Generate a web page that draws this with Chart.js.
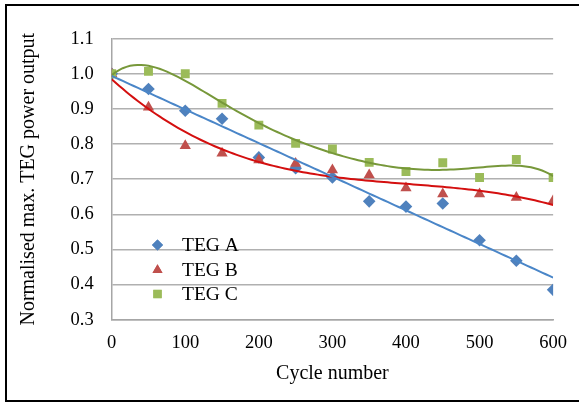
<!DOCTYPE html>
<html>
<head>
<meta charset="utf-8">
<script src="https://cdn.jsdelivr.net/npm/chart.js@4.4.1/dist/chart.umd.min.js"></script>
<style>
  html, body { margin: 0; padding: 0; background: #fff; }
  #wrap { position: relative; width: 579px; height: 403px; }
  #frame { position: absolute; left: 5px; top: 4px; width: 580px; height: 398px;
           border: 2px solid #000; box-sizing: border-box; pointer-events: none; }
</style>
</head>
<body>
<div id="wrap">
  <canvas id="chart" width="579" height="403"></canvas>
  <div id="frame"></div>
</div>
<script>
// Normalised peak power of three TEG modules over thermal cycling
const cycles = [0, 50, 100, 150, 200, 250, 300, 350, 400, 450, 500, 550, 600];
const tegA = [1.000, 0.957, 0.895, 0.872, 0.762, 0.731, 0.705, 0.637, 0.622, 0.631, 0.526, 0.468, 0.385];
const tegB = [1.000, 0.905, 0.795, 0.774, 0.755, 0.745, 0.726, 0.712, 0.675, 0.658, 0.658, 0.648, 0.639];
const tegC = [1.000, 1.007, 1.000, 0.916, 0.854, 0.802, 0.786, 0.748, 0.722, 0.747, 0.705, 0.756, 0.705];

const seriesNames = ['TEG A', 'TEG B', 'TEG C'];
const xTicks = [0, 100, 200, 300, 400, 500, 600];
const yTicks = [0.3, 0.4, 0.5, 0.6, 0.7, 0.8, 0.9, 1.0, 1.1];

const markerColors = ['#4f81bd', '#c0504d', '#9bbb59'];
const lineColors = ['#4a86c8', '#d40f0f', '#77983a'];
const pointStyles = ['rectRot', 'triangle', 'rect'];
const trendOrder = [1, 3, 6];

// least-squares polynomial trendline, x scaled to 0..1 for conditioning
function polyFit(xs, ys, deg) {
  const n = deg + 1;
  const A = [];
  for (let i = 0; i < n; i++) {
    A.push(new Array(n + 1).fill(0));
  }
  xs.forEach((x0, k) => {
    const x = x0 / 600;
    for (let i = 0; i < n; i++) {
      for (let j = 0; j < n; j++) A[i][j] += Math.pow(x, i + j);
      A[i][n] += ys[k] * Math.pow(x, i);
    }
  });
  for (let c = 0; c < n; c++) {
    let p = c;
    for (let r = c + 1; r < n; r++) if (Math.abs(A[r][c]) > Math.abs(A[p][c])) p = r;
    [A[c], A[p]] = [A[p], A[c]];
    for (let r = 0; r < n; r++) {
      if (r === c) continue;
      const f = A[r][c] / A[c][c];
      for (let j = c; j <= n; j++) A[r][j] -= f * A[c][j];
    }
  }
  const coef = A.map((row, i) => row[n] / row[i]);
  return x0 => coef.reduce((s, c, i) => s + c * Math.pow(x0 / 600, i), 0);
}

function trendPoints(ys, deg) {
  const f = polyFit(cycles, ys, deg);
  const pts = [];
  for (let x = 0; x <= 600; x += 5) pts.push({ x: x, y: f(x) });
  return pts;
}

const allSeries = [tegA, tegB, tegC];
const datasets = [];

allSeries.forEach((ys, i) => {
  datasets.push({
    label: seriesNames[i],
    data: cycles.map((c, k) => ({ x: c, y: ys[k] })),
    showLine: false,
    pointStyle: pointStyles[i],
    pointRadius: i === 1 ? 6.5 : 6.3,
    pointBackgroundColor: markerColors[i],
    pointBorderWidth: 0,
    pointBorderColor: markerColors[i],
    order: 5 - i
  });
});

allSeries.forEach((ys, i) => {
  datasets.push({
    label: seriesNames[i] + ' trend',
    data: trendPoints(ys, trendOrder[i]),
    showLine: true,
    borderColor: lineColors[i],
    borderWidth: 2,
    pointRadius: 0,
    tension: 0,
    order: 1
  });
});

// legend drawn inside the plot area, lower left
const insideLegend = {
  id: 'insideLegend',
  afterDraw(chart) {
    const ctx = chart.ctx;
    const rows = [245, 270, 294];
    const sizes = [5.5, 5.8, 5.9];
    ctx.save();
    seriesNames.forEach((name, i) => {
      ctx.fillStyle = markerColors[i];
      Chart.helpers.drawPoint(ctx, {
        pointStyle: pointStyles[i],
        radius: sizes[i],
        rotation: 0,
        borderWidth: 0
      }, 157.5, rows[i]);
      ctx.fill();
      ctx.fillStyle = '#000';
      ctx.font = '19.5px "Liberation Serif"';
      ctx.textBaseline = 'middle';
      ctx.textAlign = 'left';
      ctx.fillText(name, 182, rows[i] + 1);
    });
    ctx.restore();
  }
};

Chart.defaults.font.family = '"Liberation Serif", "Times New Roman", serif';
Chart.defaults.font.size = 18.5;
Chart.defaults.color = '#000';

new Chart(document.getElementById('chart'), {
  type: 'scatter',
  data: { datasets: datasets },
  options: {
    responsive: false,
    animation: false,
    layout: { padding: { top: 38.7, right: 20, left: 0, bottom: 0 } },
    plugins: {
      legend: { display: false },
      tooltip: { enabled: false }
    },
    scales: {
      x: {
        type: 'linear',
        min: 0,
        max: 600,
        afterBuildTicks: s => { s.ticks = xTicks.map(v => ({ value: v })); },
        afterFit: s => { s.height = 83.3; },
        grid: { display: false, drawTicks: false },
        border: { display: true, color: '#a6a6a6', width: 1.5 },
        ticks: { padding: 12, maxRotation: 0 },
        title: { display: true, text: 'Cycle number', font: { size: 20 }, padding: { top: 4, bottom: 17 } }
      },
      y: {
        min: 0.3,
        max: 1.1,
        afterBuildTicks: s => { s.ticks = yTicks.map(v => ({ value: v })); },
        afterFit: s => { s.width = 111.7; },
        grid: { color: '#b0b0b0', lineWidth: 1.5, drawTicks: false },
        border: { display: true, color: '#a6a6a6', width: 1.5 },
        ticks: {
          padding: 18,
          callback: v => v.toFixed(1)
        },
        title: { display: true, text: 'Normalised max. TEG power output', font: { size: 20 }, padding: { top: 16.5 } }
      }
    }
  },
  plugins: [insideLegend]
});
</script>
</body>
</html>
